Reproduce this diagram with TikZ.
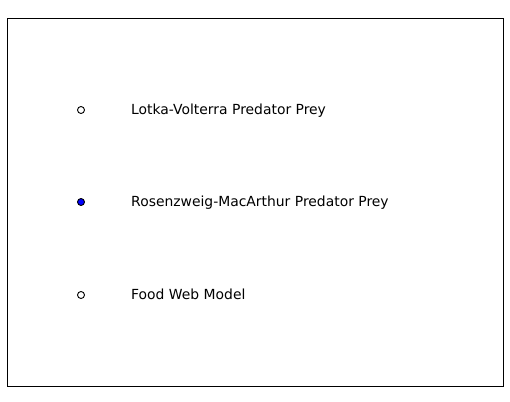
\documentclass[tikz,border=0pt]{standalone}
\usepackage{fontspec}
\setmainfont{DejaVu Sans}
\usetikzlibrary{positioning}

\begin{document}
\begin{tikzpicture}[x=1pt,y=-1pt]
                \tikzset{radiobtn/.style={circle,draw=black,line width=0.9pt,minimum size=7pt,inner sep=0pt},
                         radiolabel/.style={anchor=base west,inner sep=0pt,font=\fontsize{13.9}{16}\selectfont}}
                \useasboundingbox (0,0) rectangle (510,401);
                \draw[line width=0.9pt] (7.3,18.3) rectangle (503,386.7);
                \node[radiobtn,fill=white] (btnlv) at (81,110) {};
                \node[radiobtn,fill=blue] (btnrm) at (81,202) {};
                \node[radiobtn,fill=white] (btnfw) at (81,295) {};
                \node[radiolabel] (lablv) at (131,114.1) {Lotka-Volterra Predator Prey};
                \node[radiolabel] (labrm) at (131,206.1) {Rosenzweig-MacArthur Predator Prey};
                \node[radiolabel] (labfw) at (131,299.1) {Food Web Model};
            \end{tikzpicture}
\end{document}
